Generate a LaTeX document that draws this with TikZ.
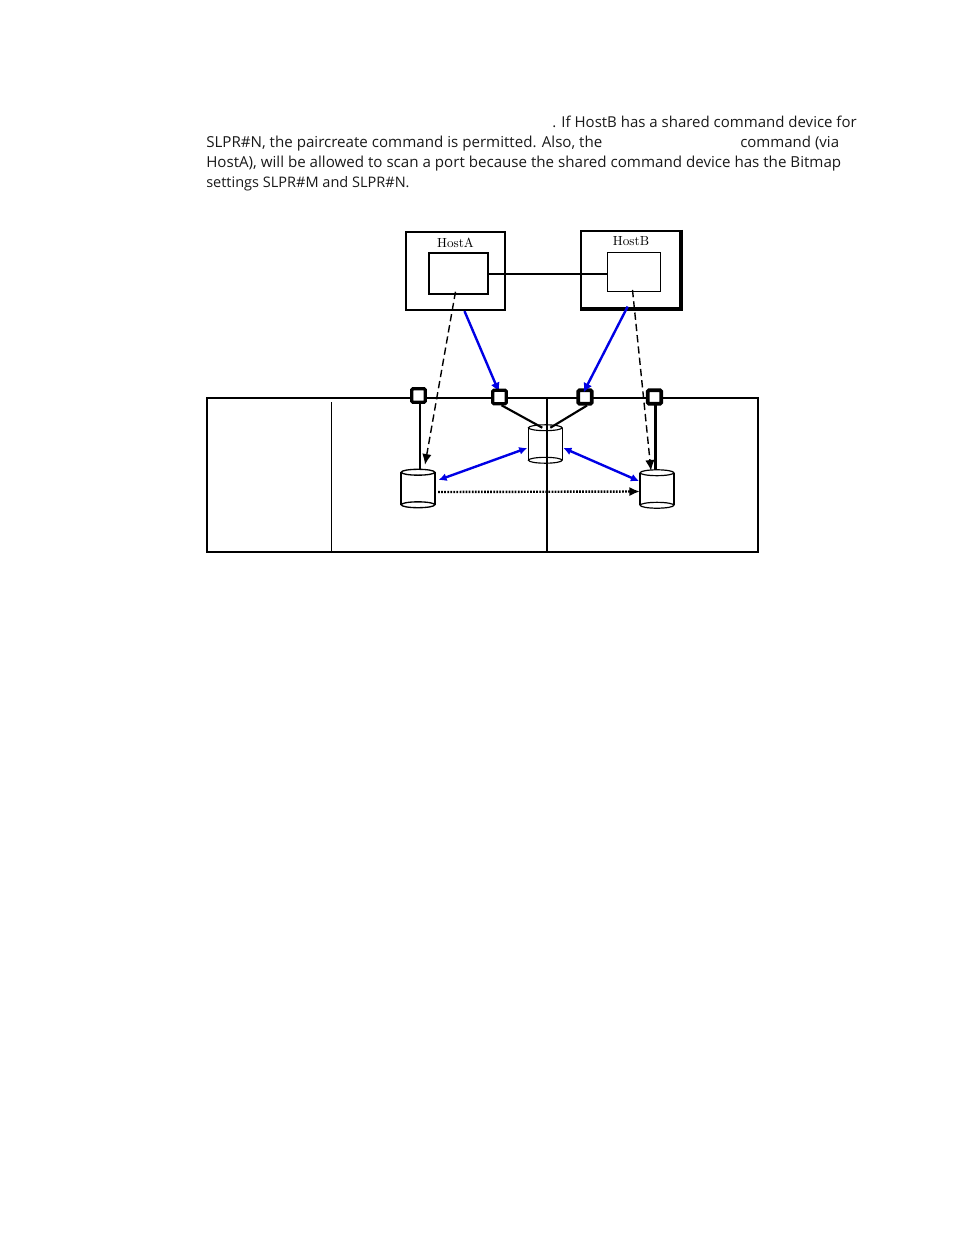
\documentclass[tikz,border=0pt]{standalone}
\usepackage{fontspec}
\setsansfont{Open Sans}
\usetikzlibrary{calc,arrows.meta}
\tikzset{
  x=0.75pt,y=-0.75pt,
  para/.style={anchor=base west,inner sep=0pt,font=\sffamily\fontsize{#1}{12}\selectfont,text=black!90},
  hostbox/.style={draw,line width=1.7pt,rectangle,inner sep=0pt,fill=white},
  innerbox/.style={draw,line width=1.1pt,rectangle,inner sep=0pt,fill=white},
  hostlabel/.style={font=\fontsize{9.9}{12}\selectfont,inner sep=0pt},
  portbox/.style={draw,line width=2.4pt,rectangle,rounded corners=0.8pt,fill=white,inner sep=0pt,minimum size=10pt},
  cylbox/.style={rectangle,inner sep=0pt,minimum width=25.2pt,minimum height=24pt},
  solid link/.style={line width=1.6pt},
  blue link/.style={draw=blue!90!black,line width=1.8pt},
  tipS/.style={-{Latex[length=7pt,width=7pt]}},
  dash link/.style={line width=1.05pt,dash pattern=on 5.5pt off 3pt,-{Latex[length=8pt,width=7pt]}},
  dot link/.style={line width=1.8pt,dash pattern=on 1.3pt off 1pt,-{Latex[length=8pt,width=7pt]}},
}
\newcommand{\mycyl}[4]{% name, cx, cy
  \node[cylbox] (#1) at (#2,#3) {};
  \path[fill=white] (#1.north west) rectangle (#1.south east);
  \draw[line width=#4] (#1.north west) -- (#1.south west);
  \draw[line width=#4] (#1.north east) -- (#1.south east);
  \draw[line width=#4,fill=white] (#1.north) ellipse (12.6pt and 2.2pt);
  \draw[line width=#4,fill=white] (#1.south) ellipse (12.6pt and 2.2pt);
}
\begin{document}
\begin{tikzpicture}
\useasboundingbox (0,0) rectangle (954,1235);
% text
\node[para=11.25] (t1a) at (552,127) {. If HostB has a shared command device for};
\node[para=11.35] (t2a) at (206,147) {SLPR\#N, the paircreate command is permitted. Also, the};
\node[para=11.25] (t2b) at (740,147) {command (via};
\node[para=11.35] (t3) at (206,167) {HostA), will be allowed to scan a port because the shared command device has the Bitmap};
\node[para=10.9] (t4) at (206,187) {settings SLPR\#M and SLPR\#N.};
% frame
\node[draw,line width=1.7pt,rectangle,inner sep=0pt,minimum width=413.25pt,minimum height=115.5pt] (frame) at (482.5,475) {};
\coordinate (d1t) at (331.5,402);
\coordinate (d2t) at (547,398);
\draw[line width=0.8pt] (d1t) -- (d1t |- frame.south);
% hosts
\node[hostbox,minimum width=74.25pt,minimum height=58.5pt] (hostA) at (455.5,271) {};
\node[hostbox,minimum width=74.5pt,minimum height=58pt] (hostB) at (630.7,269.7) {};
\draw[line width=2.2pt] (hostB.north east) -- (hostB.south east) -- (hostB.south west);
\node[innerbox,minimum width=44.25pt,minimum height=30.75pt] (inA) at (458.5,273.5) {};
\node[draw,line width=0.7pt,rectangle,inner sep=0pt,minimum width=39.75pt,minimum height=29.25pt,fill=white] (inB) at (634,272) {};
\node[hostlabel] (lA) at (455.5,242.5) {HostA};
\node[hostlabel] (lB) at (631,241) {HostB};
\coordinate (linkA) at ($(inA.east)+(0,0.5)$);
\draw[line width=2.2pt] (linkA) -- (linkA -| inB.west);
% cylinders
\mycyl{cL}{418}{488.5}{1pt}
\mycyl{cM}{545.3}{444}{0.85pt}
\mycyl{cR}{657}{489}{0.9pt}
\draw[line width=1.25pt] (d2t) -- (d2t |- frame.south);
% port links
\draw[solid link] ($(cL.north)+(2,-3)$) -- +(0,-69);
\draw[line width=2.4pt] ($(cR.north)+(-1.5,-3)$) -- +(0,-69);
\coordinate (p2at) at (499.5,397);
\draw[blue link,tipS] ($(hostA.south)+(9,0)$) -- ($(p2at)+(-0.5,-5)$);
% ports
\node[portbox] (p1) at (418.5,395.5) {};
\node[portbox] (p2) at (p2at) {};
\node[portbox,line width=2.8pt] (p3) at (585,397) {};
\node[portbox,line width=2.8pt] (p4) at (654.5,397) {};
\draw[solid link] ($(p2.south)+(2,0)$) -- ($(cM.north)+(-3,0)$);
\draw[solid link] ($(p3.south)+(2,0)$) -- ($(cM.north)+(5,0)$);
% arrows
\draw[blue link,tipS] ($(hostB.south)+(-3,-3)$) -- ($(p3.north)+(-1.5,4)$);
\draw[dash link] ($(inA.south)+(-3,-3)$) -- ($(cL.north)+(7,-7.5)$);
\draw[dash link] ($(inB.south)+(-1.5,-2)$) -- ($(cR.north)+(-6,-2)$);
\draw[blue link,{Latex[length=6pt,width=6pt]}-{Latex[length=6pt,width=6pt]}] ($(cL.east)+(3.5,-8.5)$) -- ($(cM.west)+(-1,4)$);
\draw[blue link,{Latex[length=6pt,width=6pt]}-{Latex[length=6pt,width=6pt]}] ($(cM.east)+(1,4)$) -- ($(cR.west)+(-1,-8)$);
\draw[dot link] ($(cL.east)+(3,3.5)$) -- ($(cR.west)+(0,2.5)$);
\end{tikzpicture}
\end{document}
